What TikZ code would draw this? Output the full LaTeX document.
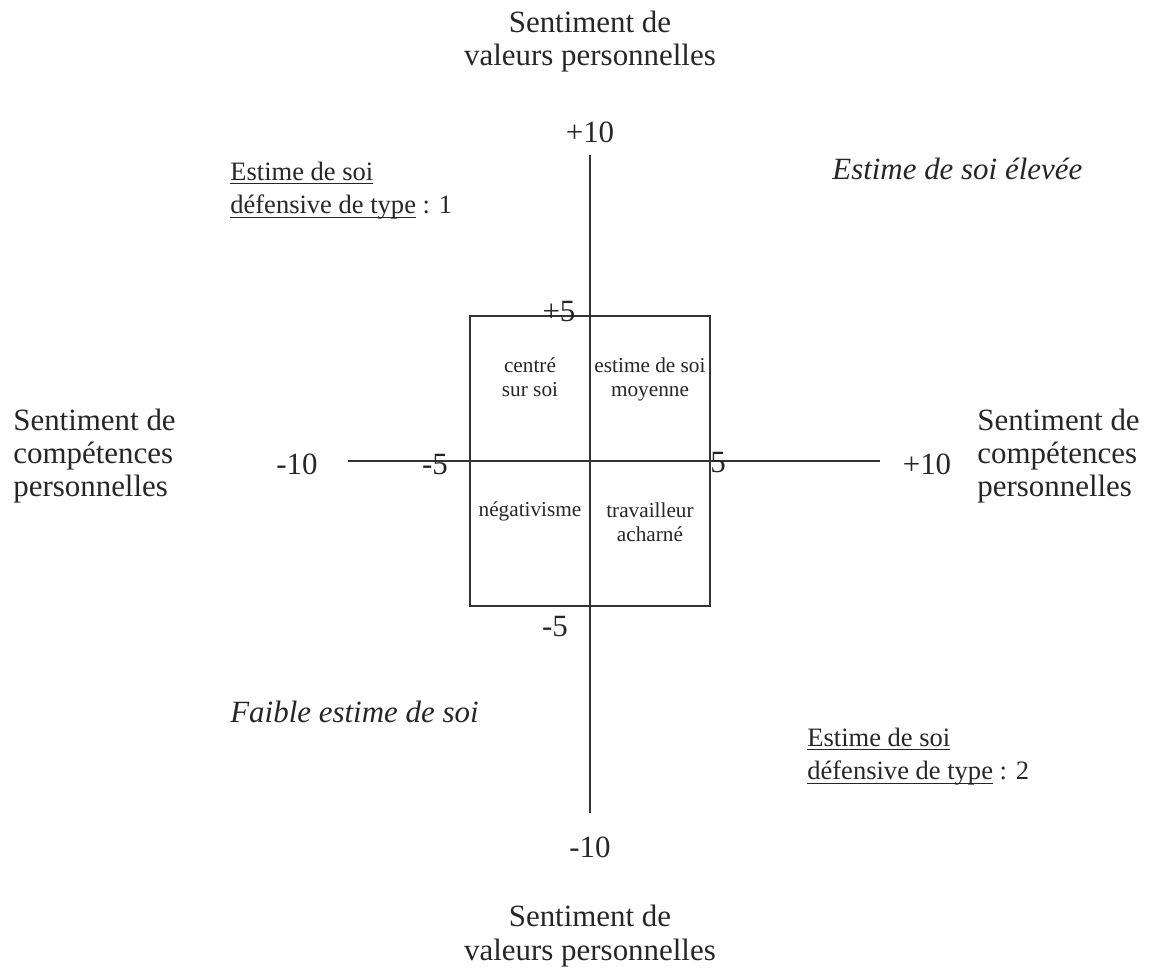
\documentclass[tikz,border=0pt]{standalone}
\usepackage{fontspec}
\setmainfont{Liberation Serif}
\usetikzlibrary{positioning}
\newcommand{\undl}[1]{\setbox0\hbox{#1}\rlap{\rule[-2.3pt]{\wd0}{0.6pt}}\box0\relax}

\begin{document}
\begin{tikzpicture}[
   axis/.style={line width=1.1pt,draw=black!80},
   big/.style={font=\fontsize{17.6}{18.8}\selectfont,text=black!85,inner sep=0pt,
              anchor=base,align=center},
   zone/.style={font=\fontsize{17.6}{18.8}\selectfont\itshape,text=black!85,
              inner sep=0pt,anchor=base west},
   typ/.style={font=\fontsize{15.1}{19.3}\selectfont,text=black!85,inner sep=0pt,
              anchor=base west,align=left},
   quadlbl/.style={font=\fontsize{12.1}{14.2}\selectfont,text=black!85,inner sep=0pt,
              anchor=base,align=center},
]
\useasboundingbox (-11.8,-10.24) rectangle (11.26,9.22);

% axes and central square
\coordinate (yt) at (0,6.12);
\coordinate (yb) at (0,-7.04);
\coordinate (xl) at (-4.84,0);
\coordinate (xr) at (5.80,0);
\node[draw,axis,minimum width=4.8cm,minimum height=5.8cm,inner sep=0pt] (box) at (0,0) {};
\draw[axis] (xl) -- (xr);
\draw[axis] (yt) -- (yb);

% scale values
\node[big] (ptop) at (0,6.36) {+10};
\node[big] (p5t) at (-0.62,2.78) {+5};
\node[big] (m5l) at (-3.1,-0.28) {-5};
\node[big] (m10l) at (-5.86,-0.28) {-10};
\node[big] (p5r) at (2.56,-0.24) {5};
\node[big] (p10r) at (6.74,-0.28) {+10};
\node[big] (m5b) at (-0.7,-3.52) {-5};
\node[big] (m10b) at (0,-7.92) {-10};

% axis titles (base = last line)
\node[big] (valtop) at (0,7.91) {Sentiment de\\valeurs personnelles};
\node[big] (valbot) at (0,-9.98) {Sentiment de\\valeurs personnelles};
\node[big,anchor=base west,align=left] (compl) at (-11.54,-0.72)
     {Sentiment de\\compétences\\personnelles};
\node[big,anchor=base west,align=left] (compr) at (7.74,-0.72)
     {Sentiment de\\compétences\\personnelles};

% outer zones
\node[zone] (high) at (4.84,5.62) {Estime de soi élevée};
\node[zone] (low) at (-7.2,-5.24) {Faible estime de soi};
\node[typ] (def1) at (-7.2,4.94) {\undl{Estime de soi}\\\undl{défensive de type} : 1};
\node[typ] (def2) at (4.34,-6.38) {\undl{Estime de soi}\\\undl{défensive de type} : 2};

% quadrants of the square
\node[quadlbl] (self) at (-1.2,1.28) {centré\\sur soi};
\node[quadlbl] (avg) at (1.2,1.28) {estime de soi\\moyenne};
\node[quadlbl] (neg) at (-1.2,-1.12) {négativisme};
\node[quadlbl] (work) at (1.2,-1.62) {travailleur\\acharné};
\end{tikzpicture}
\end{document}
